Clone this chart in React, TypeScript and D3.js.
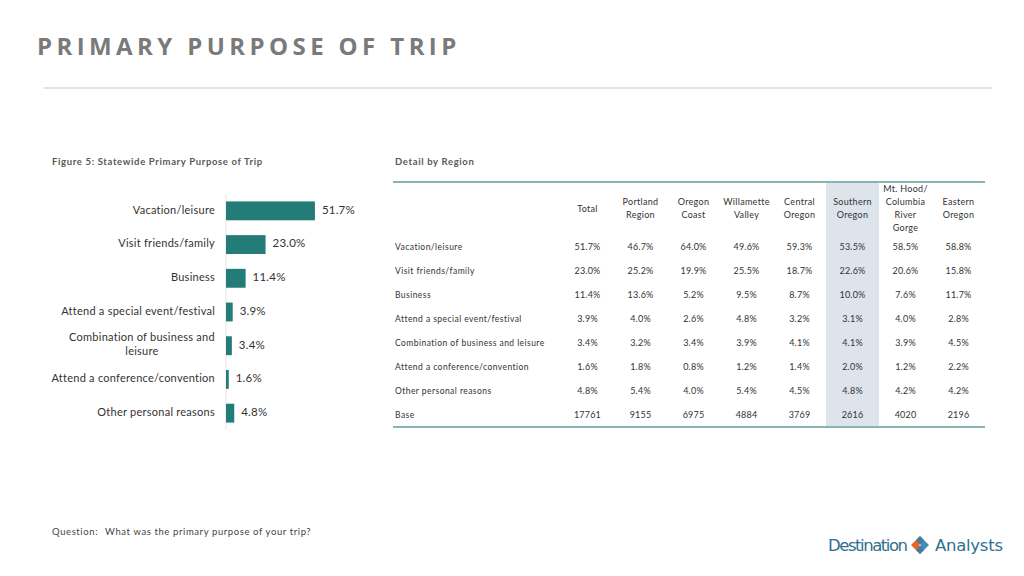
import * as d3 from "d3";

const categories = [
  "Vacation/leisure",
  "Visit friends/family",
  "Business",
  "Attend a special event/festival",
  "Combination of business and leisure",
  "Attend a conference/convention",
  "Other personal reasons",
];
// two-line wrap used in the bar chart labels
const barLabelLines = [
  ["Vacation/leisure"],
  ["Visit friends/family"],
  ["Business"],
  ["Attend a special event/festival"],
  ["Combination of business and", "leisure"],
  ["Attend a conference/convention"],
  ["Other personal reasons"],
];
const totals = [51.7, 23.0, 11.4, 3.9, 3.4, 1.6, 4.8];

const regionHeaders = [
  ["Total"],
  ["Portland", "Region"],
  ["Oregon", "Coast"],
  ["Willamette", "Valley"],
  ["Central", "Oregon"],
  ["Southern", "Oregon"],
  ["Mt. Hood/", "Columbia", "River", "Gorge"],
  ["Eastern", "Oregon"],
];
const highlightedRegion = 5;

const vacation = [51.7, 46.7, 64.0, 49.6, 59.3, 53.5, 58.5, 58.8];
const friends = [23.0, 25.2, 19.9, 25.5, 18.7, 22.6, 20.6, 15.8];
const business = [11.4, 13.6, 5.2, 9.5, 8.7, 10.0, 7.6, 11.7];
const specialEvent = [3.9, 4.0, 2.6, 4.8, 3.2, 3.1, 4.0, 2.8];
const combination = [3.4, 3.2, 3.4, 3.9, 4.1, 4.1, 3.9, 4.5];
const conference = [1.6, 1.8, 0.8, 1.2, 1.4, 2.0, 1.2, 2.2];
const otherPersonal = [4.8, 5.4, 4.0, 5.4, 4.5, 4.8, 4.2, 4.2];
const base = [17761, 9155, 6975, 4884, 3769, 2616, 4020, 2196];

const tableRows = [vacation, friends, business, specialEvent, combination, conference, otherPersonal];

const font = "Lato, 'Noto Sans', sans-serif";

// width of a label line, so wrapped labels can be centred as a block
function measure(text: string, size: number, spacing: number) {
  const ctx = document.createElement("canvas").getContext("2d");
  if (!ctx) return text.length * size * 0.5;
  ctx.font = `${size}px Lato, 'Noto Sans', sans-serif`;
  return ctx.measureText(text).width + spacing * text.length;
}

export default function App() {
  const width = 1024;
  const height = 576;

  // bar chart
  const barX0 = 226;
  const labelRight = 215;
  const labelSize = 11;
  const labelSpacing = 0.25;
  const x = d3.scaleLinear().domain([0, 100]).range([0, 172]);
  const y = d3
    .scaleBand()
    .domain(categories)
    .range([194, 430])
    .paddingInner(0.44)
    .paddingOuter(0.22);

  // table
  const colX = d3
    .scaleBand()
    .domain(regionHeaders.map((d) => d.join(" ")))
    .range([561, 985]);
  const tableTop = 182;
  const tableBottom = 427;
  const rowLabels = [...categories, "Base"];
  const rowY = d3
    .scalePoint()
    .domain(rowLabels)
    .range([248, 416]);
  const fmt = d3.format(".1f");

  return (
    <svg
      width={width}
      height={height}
      style={{ position: "absolute", left: 0, top: 0, background: "#fff" }}
      fontFamily={font}
    >
      {/* Title */}
      <text
        x={37}
        y={55}
        fontSize={24}
        fontWeight="bold"
        fill="#7a7a7a"
        letterSpacing={4.4}
        fontFamily="'Open Sans', Lato, sans-serif"
      >
        PRIMARY PURPOSE OF TRIP
      </text>
      <line x1={44} x2={992} y1={88} y2={88} stroke="#d9d9d9" strokeWidth={1.5} />

      {/* Figure 5 */}
      <text x={52} y={165} fontSize={9.5} fontWeight="bold" fill="#595959" letterSpacing={0.65}>
        Figure 5: Statewide Primary Purpose of Trip
      </text>
      <line x1={barX0} x2={barX0} y1={194} y2={430} stroke="#e3e3e3" />
      {categories.map((c, i) => {
        const by = y(c)!;
        const bh = y.bandwidth();
        const lines = barLabelLines[i];
        const cy = by + bh / 2;
        const blockW = d3.max(lines, (l) => measure(l, labelSize, labelSpacing)) ?? 0;
        const blockCx = labelRight - blockW / 2;
        return (
          <g key={c}>
            <rect x={barX0} y={by} width={x(totals[i])} height={bh} fill="#237c78" />
            {lines.map((l, j) => (
              <text
                key={l}
                x={lines.length > 1 ? blockCx : labelRight}
                y={cy + (j - (lines.length - 1) / 2) * 14}
                textAnchor={lines.length > 1 ? "middle" : "end"}
                dominantBaseline="middle"
                fontSize={labelSize}
                fill="#333"
                letterSpacing={labelSpacing}
              >
                {l}
              </text>
            ))}
            <text
              x={barX0 + x(totals[i]) + 7}
              y={cy}
              dominantBaseline="middle"
              fontSize={11.5}
              fill="#333"
              letterSpacing={0.2}
            >
              {fmt(totals[i])}%
            </text>
          </g>
        );
      })}

      {/* Detail by region */}
      <text x={395} y={165} fontSize={9.5} fontWeight="bold" fill="#595959" letterSpacing={0.65}>
        Detail by Region
      </text>
      <rect
        x={colX(regionHeaders[highlightedRegion].join(" "))}
        y={tableTop}
        width={colX.bandwidth()}
        height={tableBottom - tableTop}
        fill="#dde4ec"
      />
      <line x1={393} x2={985} y1={tableTop} y2={tableTop} stroke="#86b5b3" strokeWidth={2} />
      <line x1={393} x2={985} y1={tableBottom} y2={tableBottom} stroke="#86b5b3" strokeWidth={2} />
      {regionHeaders.map((h, i) => {
        const cx = colX(h.join(" "))! + colX.bandwidth() / 2;
        return (
          <g key={h.join(" ")}>
            {h.map((l, j) => (
              <text
                key={l}
                x={cx}
                y={209.5 + (j - (h.length - 1) / 2) * 13}
                textAnchor="middle"
                dominantBaseline="middle"
                fontSize={9}
                fill="#333"
                letterSpacing={0.3}
              >
                {l}
              </text>
            ))}
            {tableRows.map((row, r) => (
              <text
                key={r}
                x={cx}
                y={rowY(rowLabels[r])}
                textAnchor="middle"
                dominantBaseline="middle"
                fontSize={9}
                fill="#333"
                letterSpacing={0.2}
              >
                {fmt(row[i])}%
              </text>
            ))}
            <text
              x={cx}
              y={rowY("Base")}
              textAnchor="middle"
              dominantBaseline="middle"
              fontSize={9}
              fill="#333"
              letterSpacing={0.2}
            >
              {base[i]}
            </text>
          </g>
        );
      })}
      {rowLabels.map((l) => (
        <text
          key={l}
          x={395}
          y={rowY(l)}
          dominantBaseline="middle"
          fontSize={8.5}
          fill="#333"
          letterSpacing={0.45}
        >
          {l}
        </text>
      ))}

      {/* Question */}
      <text x={52} y={535} fontSize={9.5} fill="#444" letterSpacing={0.6}>
        Question:
      </text>
      <text x={105} y={535} fontSize={9.5} fill="#444" letterSpacing={0.6}>
        What was the primary purpose of your trip?
      </text>

      {/* Logo */}
      <text x={828} y={551} fontSize={16.5} fill="#2f6f91" fontFamily="'DejaVu Sans', sans-serif" textLength={80}>
        Destination
      </text>
      <g transform="translate(920,545)">
        <polygon points="-9,0 0,-9 4,-5 -1,0 4,5 0,9" fill="#e0662c" />
        <polygon points="9,0 0,-9 -4,-5 1,0 -4,5 0,9" fill="#2f7fb0" opacity={0.9} />
      </g>
      <text x={935} y={551} fontSize={16.5} fill="#2f6f91" fontFamily="'DejaVu Sans', sans-serif" textLength={68}>
        Analysts
      </text>
    </svg>
  );
}
